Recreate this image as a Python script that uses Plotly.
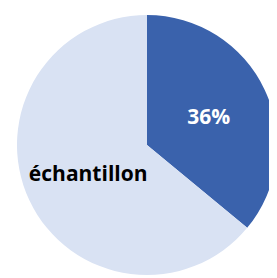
import plotly.graph_objects as go

labels = ["autre", "échantillon"]
values = [36, 64]
colors = ["#3A62AC", "#D9E2F3"]
texts = ["36%", "échantillon"]
text_colors = ["#FFFFFF", "#000000"]

fig = go.Figure(go.Pie(
    labels=labels,
    values=values,
    sort=False,
    direction="clockwise",
    rotation=0,
    marker=dict(colors=colors, line=dict(width=0)),
    text=texts,
    textinfo="text",
    textposition="inside",
    insidetextorientation="horizontal",
    insidetextfont=dict(color=text_colors, size=21, family="Open Sans"),
    texttemplate="<b>%{text}</b>",
    domain=dict(x=[9/277, 269/277], y=[11/278, 271/278]),
    showlegend=False,
    hoverinfo="skip",
))
fig.update_layout(
    width=277, height=278,
    margin=dict(l=0, r=0, t=0, b=0),
    paper_bgcolor="white",
    plot_bgcolor="white",
)
fig.write_html("out.html")
